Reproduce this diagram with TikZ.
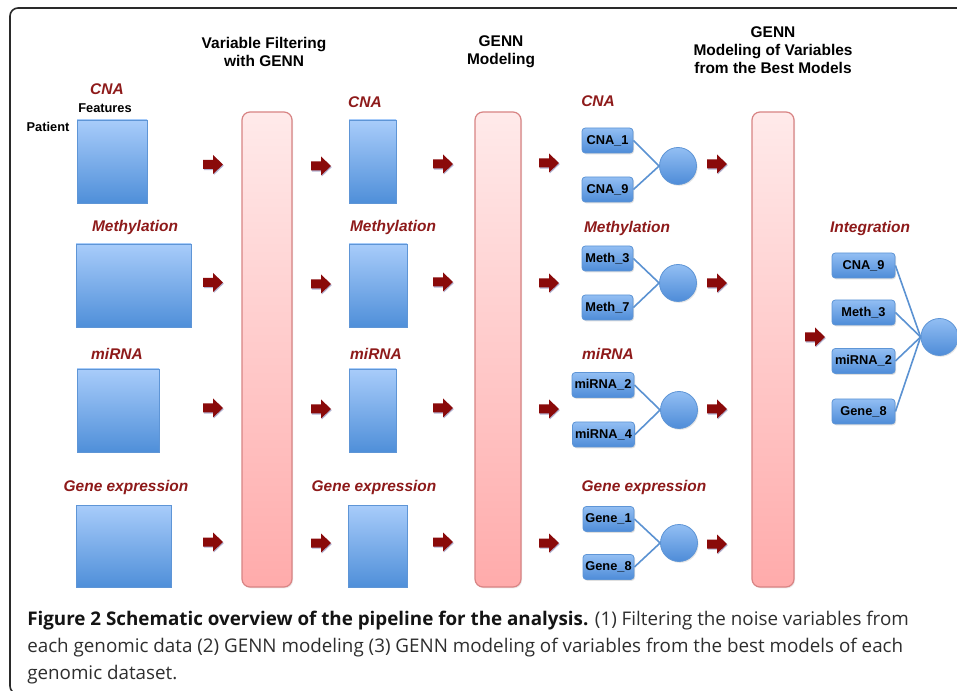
\documentclass[tikz,border=0pt]{standalone}
\usepackage{fontspec}
\newfontfamily\lsans{Liberation Sans}
\newfontfamily\osans{Open Sans}
\usetikzlibrary{fit,shadows}
\definecolor{lblred}{HTML}{8E1A1A}
\definecolor{arrred}{HTML}{8A0A0A}
\definecolor{btop}{HTML}{A8CCFA}
\definecolor{bbot}{HTML}{4F8FD9}
\definecolor{bdraw}{HTML}{5E95D6}
\definecolor{stop}{HTML}{92BEF3}
\definecolor{sbot}{HTML}{4E8CD8}
\definecolor{ptop}{HTML}{FFEAEA}
\definecolor{pbot}{HTML}{FFABAB}
\definecolor{pdraw}{HTML}{D88484}
\definecolor{linkc}{HTML}{5B92D2}
\definecolor{framec}{HTML}{2A2A2A}
\tikzset{
  hdr/.style={font=\lsans\bfseries\fontsize{11.6pt}{13.5pt}\selectfont, align=center, inner sep=0pt},
  rowlab/.style={font=\lsans\bfseries\itshape\fontsize{11.6pt}{13.5pt}\selectfont, text=lblred, inner sep=0pt},
  axlab/.style={font=\lsans\bfseries\fontsize{9.6pt}{11pt}\selectfont, inner sep=0pt},
  bigbox/.style={draw=bdraw, line width=0.7pt, top color=btop, bottom color=bbot, inner sep=0pt,
     drop shadow={opacity=0.25, shadow xshift=0.8pt, shadow yshift=-1pt}},
  bar/.style={draw=pdraw, line width=0.9pt, rounded corners=6pt, top color=ptop, bottom color=pbot, inner sep=0pt,
     drop shadow={opacity=0.15, shadow xshift=0.8pt, shadow yshift=-1pt}},
  smallbox/.style={draw=bdraw, line width=0.6pt, rounded corners=2.5pt, top color=stop, bottom color=sbot,
     minimum height=18.75pt, inner sep=0pt, font=\lsans\bfseries\fontsize{9.6pt}{11pt}\selectfont,
     drop shadow={opacity=0.25, shadow xshift=0.8pt, shadow yshift=-1pt}},
  neuron/.style={circle, draw=bdraw, line width=0.6pt, top color=stop, bottom color=sbot, minimum size=27.75pt, inner sep=0pt,
     drop shadow={opacity=0.2, shadow xshift=0.8pt, shadow yshift=-1pt}},
  link/.style={draw=linkc, line width=1.2pt},
  redarr/.pic={\fill[arrred, drop shadow={opacity=0.3, shadow xshift=0.6pt, shadow yshift=-0.8pt, fill=black!60!blue}]
     (-10,-4.5) -- (0,-4.5) -- (0,-9.5) -- (10,0) -- (0,9.5) -- (0,4.5) -- (-10,4.5) -- cycle;},
  caption/.style={font=\osans\fontsize{14.1pt}{20pt}\selectfont, text=black!82, inner sep=0pt, anchor=base west}
}
\begin{document}
\begin{tikzpicture}[x=0.75pt, y=-0.75pt]
\useasboundingbox (0,0) rectangle (957,691);
\clip (0,0) rectangle (957,691);
\fill[white] (0,0) rectangle (957,691);
% frame
\draw[framec, line width=1.2pt, rounded corners=6pt] (10,8) rectangle (990,694);

% headers
\node[hdr] (h1) at (264,52) {Variable Filtering\\with GENN};
\node[hdr] (h2) at (501,52) {GENN\\Modeling};
\node[hdr] (h3) at (773,50) {GENN\\Modeling of Variables\\from the Best Models};

% column 1
\node[rowlab] (l1a) at (107,89) {CNA};
\node[axlab] (feat) at (105,108) {Features};
\node[axlab] (pat) at (48,127) {Patient};
\node[bigbox, fit={(77,120) (147,203)}] (d1a) {};
\node[rowlab] (l1b) at (135,228) {Methylation};
\node[bigbox, fit={(76,244) (191,327)}] (d1b) {};
\node[rowlab] (l1c) at (117,354) {miRNA};
\node[bigbox, fit={(77,369) (159,452)}] (d1c) {};
\node[rowlab] (l1d) at (126,488) {Gene expression};
\node[bigbox, fit={(76,505) (171,587)}] (d1d) {};

% arrows A
\pic (aA1) at (213,164.5) {redarr};
\pic (aA2) at (213,282.5) {redarr};
\pic (aA3) at (213,408) {redarr};
\pic (aA4) at (213,542) {redarr};

% bar 1
\node[bar, fit={(242,112) (292,587)}] (bar1) {};

% arrows B
\pic (aB1) at (321,166) {redarr};
\pic (aB2) at (321,284) {redarr};
\pic (aB3) at (321,409) {redarr};
\pic (aB4) at (321,543) {redarr};

% column 2
\node[rowlab] (l2a) at (365,102) {CNA};
\node[bigbox, fit={(349,120) (396,203)}] (d2a) {};
\node[rowlab] (l2b) at (393,228) {Methylation};
\node[bigbox, fit={(349,244) (407,327)}] (d2b) {};
\node[rowlab] (l2c) at (376,354) {miRNA};
\node[bigbox, fit={(349,369) (396,452)}] (d2c) {};
\node[rowlab] (l2d) at (374,488) {Gene expression};
\node[bigbox, fit={(348,505) (407,587)}] (d2d) {};

% arrows C
\pic (aC1) at (443,164) {redarr};
\pic (aC2) at (443,282) {redarr};
\pic (aC3) at (443,408) {redarr};
\pic (aC4) at (443,542) {redarr};

% bar 2
\node[bar, fit={(475,112) (521,587)}] (bar2) {};

% arrows D
\pic (aD1) at (549,163) {redarr};
\pic (aD2) at (549,283) {redarr};
\pic (aD3) at (549,409) {redarr};
\pic (aD4) at (549,543) {redarr};

% column 3 groups
\node[rowlab] (l3a) at (598,101) {CNA};
\node[smallbox, minimum width=38.25pt] (cna1) at (607.5,140.5) {CNA\_1};
\node[smallbox, minimum width=38.25pt] (cna9) at (607.5,189.5) {CNA\_9};
\node[neuron] (nA) at (678,166) {};
\draw[link] (cna1.east) -- (nA.west);
\draw[link] (cna9.east) -- (nA.west);

\node[rowlab] (l3b) at (627,229) {Methylation};
\node[smallbox, minimum width=38.25pt] (meth3) at (607.5,258.5) {Meth\_3};
\node[smallbox, minimum width=38.25pt] (meth7) at (607.5,307.5) {Meth\_7};
\node[neuron] (nB) at (678,283) {};
\draw[link] (meth3.east) -- (nB.west);
\draw[link] (meth7.east) -- (nB.west);

\node[rowlab] (l3c) at (608,354) {miRNA};
\node[smallbox, minimum width=46.5pt] (mir2) at (603,385) {miRNA\_2};
\node[smallbox, minimum width=46.5pt] (mir4) at (603.5,434.5) {miRNA\_4};
\node[neuron] (nC) at (679,410) {};
\draw[link] (mir2.east) -- (nC.west);
\draw[link] (mir4.east) -- (nC.west);

\node[rowlab] (l3d) at (644,488) {Gene expression};
\node[smallbox, minimum width=38.25pt] (gene1) at (608.5,519) {Gene\_1};
\node[smallbox, minimum width=38.25pt] (gene8) at (608.5,567) {Gene\_8};
\node[neuron] (nD) at (679,543) {};
\draw[link] (gene1.east) -- (nD.west);
\draw[link] (gene8.east) -- (nD.west);

% arrows E
\pic (aE1) at (717,164) {redarr};
\pic (aE2) at (717,283) {redarr};
\pic (aE3) at (717,409) {redarr};
\pic (aE4) at (717,544) {redarr};

% bar 3
\node[bar, fit={(752,112) (794,587)}] (bar3) {};

% integration
\pic (aF) at (815,337) {redarr};
\node[rowlab] (l4) at (870,229) {Integration};
\node[smallbox, minimum width=47.25pt] (icna) at (863.5,265.5) {CNA\_9};
\node[smallbox, minimum width=47.25pt] (imeth) at (863.5,312.5) {Meth\_3};
\node[smallbox, minimum width=47.25pt] (imir) at (863.5,361) {miRNA\_2};
\node[smallbox, minimum width=47.25pt] (igene) at (863.5,411.5) {Gene\_8};
\node[neuron] (nI) at (939.5,337) {};
\draw[link] (icna.east) -- (nI.west);
\draw[link] (imeth.east) -- (nI.west);
\draw[link] (imir.east) -- (nI.west);
\draw[link] (igene.east) -- (nI.west);

% caption
\node[caption] (cap1) at (27,625) {\textbf{\color{black!92}Figure 2 Schematic overview of the pipeline for the analysis.} (1) Filtering the noise variables from};
\node[caption] (cap2) at (27,652) {each genomic data (2) GENN modeling (3) GENN modeling of variables from the best models of each};
\node[caption] (cap3) at (27,679) {genomic dataset.};
\end{tikzpicture}
\end{document}
